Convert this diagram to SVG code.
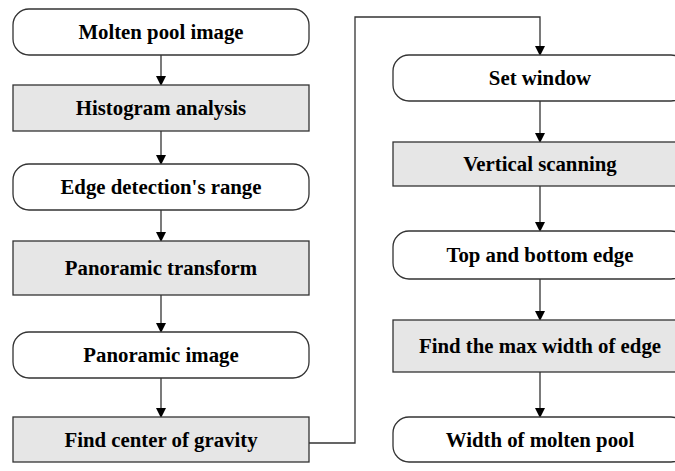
<svg xmlns="http://www.w3.org/2000/svg" width="675" height="471" viewBox="0 0 675 471">
<style>
.term{fill:#ffffff;stroke:#333333;stroke-width:1.3}
.proc{fill:#e6e6e6;stroke:#333333;stroke-width:1.3}
.lbl{font-family:"Liberation Serif","Times New Roman",serif;font-weight:bold;font-size:20.8px;fill:#000;text-anchor:middle}
.conn{fill:none;stroke:#333333;stroke-width:1.3}
</style>
<defs>
<marker id="ah" markerWidth="10" markerHeight="12" refX="8" refY="6" orient="auto" markerUnits="userSpaceOnUse" viewBox="0 0 10 12">
<path d="M0,1 L10,6 L0,11 Z" fill="#000"/>
</marker>
</defs>
<g id="connectors">
<path class="conn" d="M161,55 V84" marker-end="url(#ah)"/>
<path class="conn" d="M161,131 V163" marker-end="url(#ah)"/>
<path class="conn" d="M161,210 V240" marker-end="url(#ah)"/>
<path class="conn" d="M161,295 V331" marker-end="url(#ah)"/>
<path class="conn" d="M161,378 V416" marker-end="url(#ah)"/>
<path class="conn" d="M309,443 H355 V17 H540 V54" marker-end="url(#ah)"/>
<path class="conn" d="M540,101 V141" marker-end="url(#ah)"/>
<path class="conn" d="M540,186 V230" marker-end="url(#ah)"/>
<path class="conn" d="M540,279 V319" marker-end="url(#ah)"/>
<path class="conn" d="M540,372 V416" marker-end="url(#ah)"/>
</g>
<g id="n1"><rect class="term" x="13" y="9" width="296" height="46" rx="16" ry="16"/><text class="lbl" x="161" y="39">Molten pool image</text></g>
<g id="n2"><rect class="proc" x="13" y="85" width="296" height="46"/><text class="lbl" x="161" y="115">Histogram analysis</text></g>
<g id="n3"><rect class="term" x="13" y="164" width="296" height="46" rx="16" ry="16"/><text class="lbl" x="161" y="194">Edge detection's range</text></g>
<g id="n4"><rect class="proc" x="13" y="241" width="296" height="54"/><text class="lbl" x="161" y="275">Panoramic transform</text></g>
<g id="n5"><rect class="term" x="13" y="332" width="296" height="46" rx="16" ry="16"/><text class="lbl" x="161" y="362">Panoramic image</text></g>
<g id="n6"><rect class="proc" x="13" y="417" width="296" height="45"/><text class="lbl" x="161" y="446.5">Find center of gravity</text></g>
<g id="n7"><rect class="term" x="393" y="55" width="294" height="46" rx="16" ry="16"/><text class="lbl" x="540" y="85">Set window</text></g>
<g id="n8"><rect class="proc" x="393" y="142" width="294" height="44"/><text class="lbl" x="540" y="171">Vertical scanning</text></g>
<g id="n9"><rect class="term" x="393" y="231" width="294" height="48" rx="16" ry="16"/><text class="lbl" x="540" y="262">Top and bottom edge</text></g>
<g id="n10"><rect class="proc" x="393" y="320" width="294" height="52"/><text class="lbl" x="540" y="353">Find the max width of edge</text></g>
<g id="n11"><rect class="term" x="393" y="417" width="294" height="45" rx="16" ry="16"/><text class="lbl" x="540" y="446.5">Width of molten pool</text></g>
</svg>
